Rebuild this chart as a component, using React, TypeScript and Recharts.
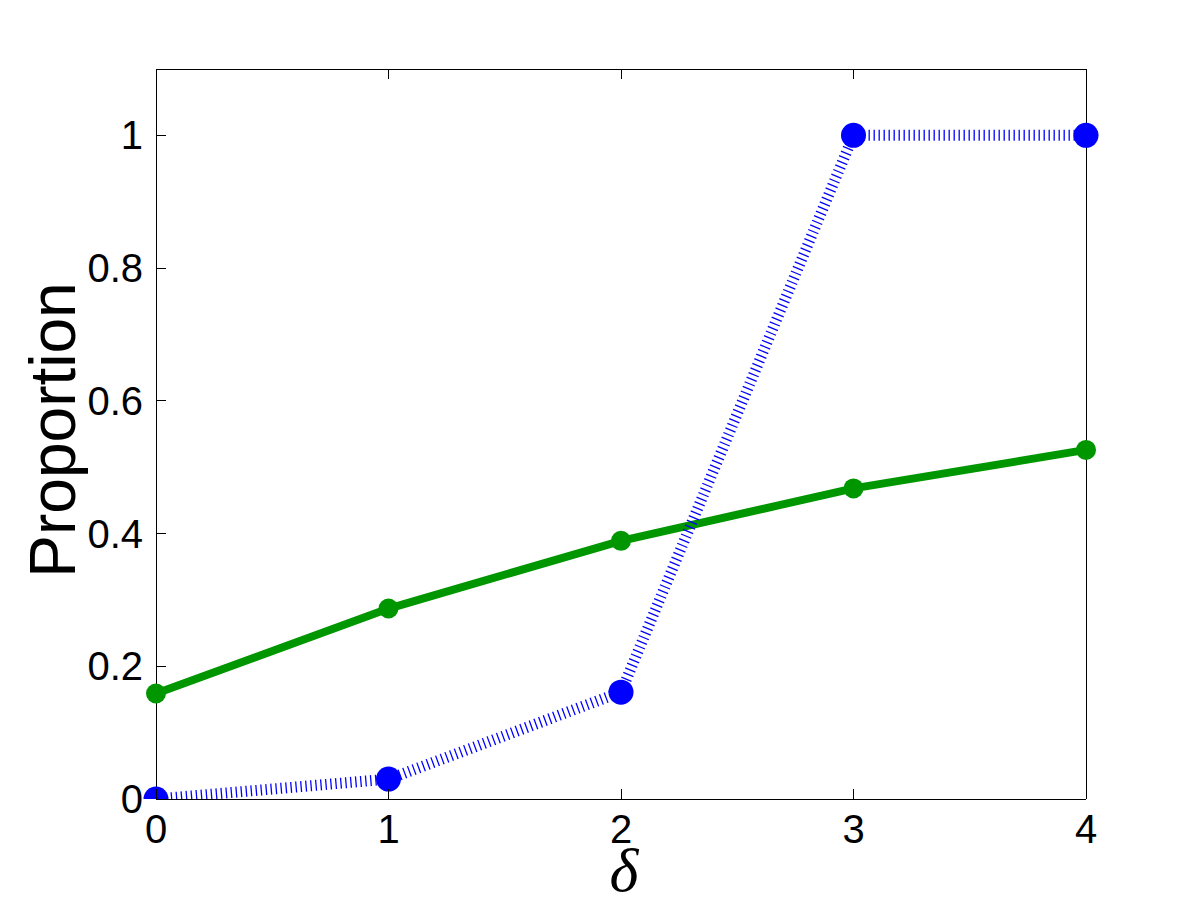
import { Label, Line, LineChart, XAxis, YAxis } from "recharts";

const deltas = [0, 1, 2, 3, 4];
const greenValues = [0.159, 0.287, 0.389, 0.468, 0.526];
const blueValues = [0, 0.03, 0.161, 1, 1];
const xTicks = [0, 1, 2, 3, 4];
const yTicks = [0, 0.2, 0.4, 0.6, 0.8, 1];

const data = deltas.map((d, i) => ({
  delta: d,
  green: greenValues[i],
  blue: blueValues[i],
}));

const FONT = "'Liberation Sans', Arial, sans-serif";
const TICK_LEN = 10;
const AXIS_LINE = { stroke: "#000", shapeRendering: "crispEdges" };

function fmt(v: number) {
  return String(Math.round(v * 10) / 10);
}

// ticks point inward, labels only on bottom / left
function makeTick(side: "bottom" | "top" | "left" | "right") {
  return (props: any) => {
    const { x, y, payload } = props;
    if (side === "bottom") {
      return (
        <g>
          <line x1={x} y1={y} x2={x} y2={y - TICK_LEN} stroke="#000" shapeRendering="crispEdges" />
          <text x={x} y={y + 44} textAnchor="middle" fontSize={40} fontFamily={FONT} fill="#000">
            {fmt(payload.value)}
          </text>
        </g>
      );
    }
    if (side === "top") {
      return <line x1={x} y1={y} x2={x} y2={y + TICK_LEN} stroke="#000" shapeRendering="crispEdges" />;
    }
    if (side === "left") {
      return (
        <g>
          <line x1={x} y1={y} x2={x + TICK_LEN} y2={y} stroke="#000" shapeRendering="crispEdges" />
          <text x={x - 13} y={y + 14} textAnchor="end" fontSize={40} fontFamily={FONT} fill="#000">
            {fmt(payload.value)}
          </text>
        </g>
      );
    }
    return <line x1={x} y1={y} x2={x - TICK_LEN} y2={y} stroke="#000" shapeRendering="crispEdges" />;
  };
}

export default function App() {
  return (
    <div style={{ position: "absolute", left: 0, top: 0, width: 1200, height: 900, background: "#fff" }}>
      <LineChart
        width={1200}
        height={900}
        data={data}
        margin={{ top: 59, right: 104, bottom: 41, left: 96 }}
      >
        <XAxis
          dataKey="delta"
          type="number"
          domain={[0, 4]}
          ticks={xTicks}
          height={60}
          tickSize={0}
          tickMargin={0}
          tickLine={false}
          axisLine={AXIS_LINE}
          tick={makeTick("bottom")}
          interval={0}
        >
          <Label
            content={(p: any) => {
              const vb = p.viewBox;
              return (
                <text
                  x={vb.x + vb.width / 2 + 3}
                  y={vb.y + 92}
                  textAnchor="middle"
                  fontSize={62}
                  fontStyle="italic"
                  fontFamily="'Liberation Serif', 'Times New Roman', serif"
                  fill="#000"
                >
                  δ
                </text>
              );
            }}
          />
        </XAxis>
        <XAxis
          xAxisId="top"
          dataKey="delta"
          type="number"
          orientation="top"
          domain={[0, 4]}
          ticks={xTicks}
          height={10}
          tickSize={0}
          tickMargin={0}
          tickLine={false}
          axisLine={AXIS_LINE}
          tick={makeTick("top")}
          interval={0}
        />
        <YAxis
          type="number"
          domain={[0, 1.1]}
          ticks={yTicks}
          width={60}
          tickSize={0}
          tickMargin={0}
          tickLine={false}
          axisLine={AXIS_LINE}
          tick={makeTick("left")}
          interval={0}
          allowDataOverflow
        >
          <Label
            content={(p: any) => {
              const vb = p.viewBox;
              const cx = vb.x - 21;
              const cy = vb.y + 361;
              return (
                <text
                  x={cx}
                  y={cy}
                  transform={`rotate(-90 ${cx} ${cy})`}
                  textAnchor="middle"
                  fontSize={64}
                  fontFamily={FONT}
                  fill="#000"
                >
                  Proportion
                </text>
              );
            }}
          />
        </YAxis>
        <YAxis
          yAxisId="right"
          orientation="right"
          type="number"
          domain={[0, 1.1]}
          ticks={yTicks}
          width={10}
          tickSize={0}
          tickMargin={0}
          tickLine={false}
          axisLine={AXIS_LINE}
          tick={makeTick("right")}
          interval={0}
        />
        <Line
          dataKey="green"
          stroke="#009600"
          strokeWidth={8}
          dot={{ r: 10, fill: "#009600", stroke: "none" }}
          activeDot={false}
          isAnimationActive={false}
        />
        <Line
          dataKey="blue"
          stroke="#0000ff"
          strokeWidth={11}
          strokeDasharray="1.3 3.7"
          dot={{ r: 12.5, fill: "#0000ff", stroke: "none", strokeDasharray: "0" }}
          activeDot={false}
          isAnimationActive={false}
        />
      </LineChart>
    </div>
  );
}
